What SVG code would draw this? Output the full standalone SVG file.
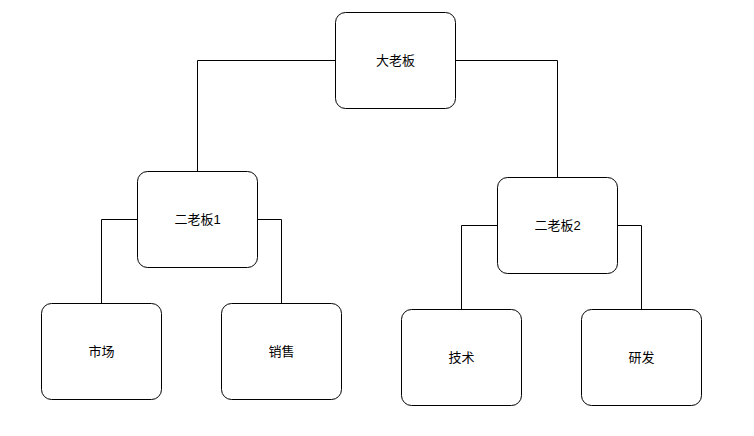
<svg xmlns="http://www.w3.org/2000/svg" width="754" height="436" viewBox="0 0 754 436">
<style>
.n rect{fill:#fff;stroke:#000;stroke-width:1}
.n text{font-family:"Liberation Sans","Noto Sans CJK SC",sans-serif;font-size:13px;text-anchor:middle;dominant-baseline:central;fill:#000}
#edges path{fill:none;stroke:#000;stroke-width:1}
</style>
<rect width="754" height="436" fill="#fff"/>
<g id="edges">
<path d="M335.5 60.5H197.5V171"/>
<path d="M455.5 60.5H557.5V177"/>
<path d="M137.5 219.5H101.5V303"/>
<path d="M257.5 219.5H281.5V303"/>
<path d="M497.5 225.5H461.5V309"/>
<path d="M617.5 225.5H641.5V309"/>
</g>
<g id="boss" class="n"><rect x="335.5" y="12.5" width="120" height="96" rx="10"/><text x="395.5" y="60.5">大老板</text></g>
<g id="boss1" class="n"><rect x="137.5" y="171.5" width="120" height="96" rx="10"/><text x="197.5" y="219.5">二老板1</text></g>
<g id="boss2" class="n"><rect x="497.5" y="177.5" width="120" height="96" rx="10"/><text x="557.5" y="225.5">二老板2</text></g>
<g id="market" class="n"><rect x="41.5" y="303.5" width="120" height="96" rx="10"/><text x="101.5" y="351.5">市场</text></g>
<g id="sales" class="n"><rect x="221.5" y="303.5" width="120" height="96" rx="10"/><text x="281.5" y="351.5">销售</text></g>
<g id="tech" class="n"><rect x="401.5" y="309.5" width="120" height="96" rx="10"/><text x="461.5" y="357.5">技术</text></g>
<g id="rd" class="n"><rect x="581.5" y="309.5" width="120" height="96" rx="10"/><text x="641.5" y="357.5">研发</text></g>
</svg>
